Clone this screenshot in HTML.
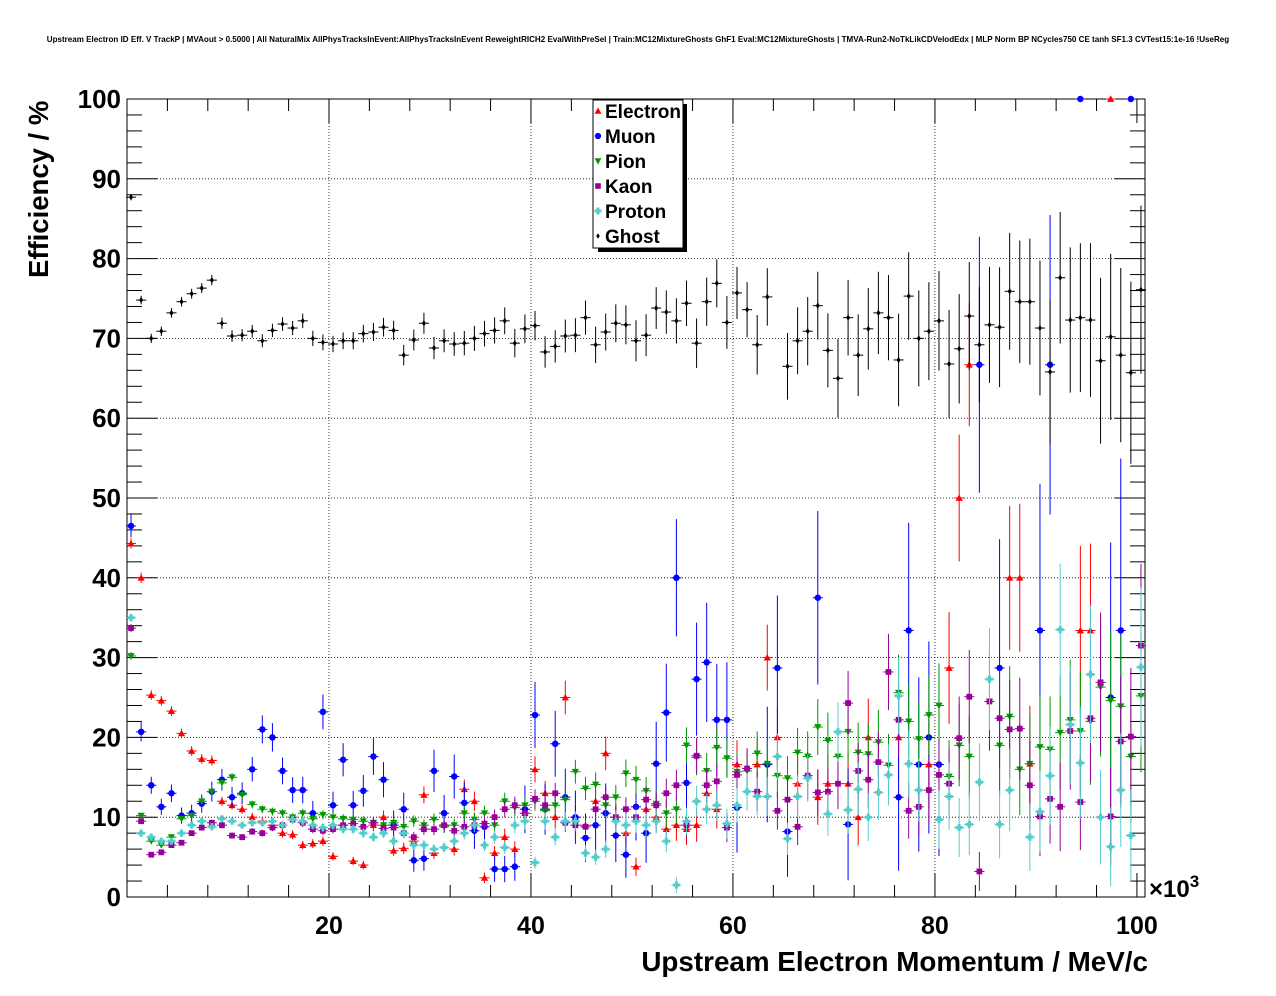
<!DOCTYPE html>
<html><head><meta charset="utf-8">
<style>
body{margin:0;background:#fff;}
svg{display:block;font-family:"Liberation Sans",Arial,sans-serif;}
</style></head>
<body>
<svg id="chart" width="1276" height="996" viewBox="0 0 1276 996" xmlns="http://www.w3.org/2000/svg">
<rect x="0" y="0" width="1276" height="996" fill="#fff"/>
<text x="638" y="42" font-size="8.05" font-weight="bold" text-anchor="middle">Upstream Electron ID Eff. V TrackP | MVAout &gt; 0.5000 | All NaturalMix AllPhysTracksInEvent:AllPhysTracksInEvent ReweightRICH2 EvalWithPreSel | Train:MC12MixtureGhosts GhF1 Eval:MC12MixtureGhosts | TMVA-Run2-NoTkLikCDVelodEdx | MLP Norm BP NCycles750 CE tanh SF1.3 CVTest15:1e-16 !UseReg</text>
<g id="grid"></g>
<g id="axes"></g>
<g id="series"></g>
<text x="1149" y="897" font-size="24" font-weight="bold">×10<tspan font-size="17" dy="-10">3</tspan></text>
<text x="1148" y="971" font-size="27.8" font-weight="bold" text-anchor="end">Upstream Electron Momentum / MeV/c</text>
<text transform="translate(48,278) rotate(-90)" font-size="27.5" font-weight="bold">Efficiency / %</text>
<g id="legend"></g>
</svg>
<script>
const xTicks=[20,40,60,80,100];
const yTicks=[0,10,20,30,40,50,60,70,80,90,100];
const seriesNames=["Electron","Muon","Pion","Kaon","Proton","Ghost"];
const ghost=[87.7,74.8,70,70.9,73.2,74.6,75.6,76.3,77.3,71.9,70.3,70.4,70.9,69.7,71,71.8,71.3,72.2,70,69.5,69.3,69.7,69.7,70.6,70.8,71.4,71,67.9,69.8,71.9,68.8,69.7,69.3,69.4,70,70.6,71,72.2,69.4,71.2,71.6,68.3,69,70.3,70.4,72.6,69.2,70.8,71.9,71.7,69.7,70.4,73.8,73.3,72.2,74.4,69.4,74.6,76.9,72,75.7,73.6,69.2,75.2,null,66.5,69.7,70.9,74.1,68.5,65,72.6,67.9,71.2,73.2,72.6,67.3,75.3,70,70.9,72.2,66.8,68.7,72.8,69.2,71.7,71.4,75.9,74.6,74.6,71.3,65.8,77.6,72.3,72.6,72.3,67.2,70.2,67.9,65.7,76.1];
const electron=[44.3,40,25.3,24.6,23.3,20.5,18.3,17.3,17.1,12,11.5,11,10,9.5,9,8,7.8,6.5,6.7,7,5.1,9,4.5,4,9,10,5.8,6.1,7,12.8,5.5,9,6,13.5,12,2.4,5.5,7.5,6,10.5,16,13,10,25,10,9,12,18,10,8,3.8,11,10,8.5,9,8.5,9,13,11,
null,16.6,null,16.6,30,20,null,14.2,null,12.5,14.2,null,14.2,10,20,null,null,20,null,null,16.6,null,28.7,50,66.7,null,null,null,40,40,16.7,null,null,null,null,33.4,33.4,null,100,null,null,null];
const muon=[46.5,20.7,14,11.3,13,10.2,10.5,11.7,13.2,14.7,12.5,13,16,21,20,15.8,13.4,13.4,10.5,23.2,11.5,17.2,11.5,13.3,17.6,14.7,9,11,4.6,4.8,15.8,10.5,15.1,11.8,8.3,8.8,3.5,3.5,3.8,11,22.8,11,19.2,12.5,10,7.4,9,10.5,7.7,5.3,11.3,8,16.7,23.1,40,14.3,27.3,29.4,22.2,
22.2,11.2,null,null,16.6,28.7,8.2,null,null,37.5,null,null,9.1,null,null,null,null,12.5,33.4,16.6,20,16.6,null,null,null,66.7,null,28.7,null,null,null,33.4,66.7,null,null,100,null,null,25,33.4,100,null];
const pion=[30.2,10.2,7,6.5,7.5,9.8,10.2,12,13.2,14.3,15,12.8,11.6,11,10.7,10.5,10,10.5,9.8,10.3,10,9.8,9.7,9.5,9.3,9,9.3,8.8,9.5,9,9.7,8.8,9,10.5,9.7,10.5,9,12,11.2,11.5,12,10.8,11.5,12.2,15.7,13.6,14.1,11.5,12.5,15.5,14.7,13.3,11.7,10.5,11,19,17.5,15.8,18.7,
17.4,15.7,15.8,18,16.7,15.2,14.9,18.1,17.6,21.3,19.6,17.6,20.7,18.1,17.9,19.4,16.5,25.6,22,19.8,22.8,24,15.1,19,17.6,null,24.5,19,22.6,16,16.7,18.8,18.5,20.6,22.2,20.8,22,26.3,24.6,23.9,17.6,25.2];
const kaon=[33.7,9.5,5.3,5.6,6.5,6.8,8,8.7,9.3,9,7.7,7.5,8.2,8,8.7,9,9.7,9.3,8.5,8.3,8.5,9,9.2,8.8,9.3,8.6,8.7,8,7.5,8.5,8.5,9,8.3,8.8,9,9.2,10,11,11.5,10.5,12.3,11.5,13,9.3,9,8.8,11,12.5,10,11,10,12.2,11.5,13,14,9,17.7,14,14.5,
8.7,15.3,16.1,13.2,null,10.8,12.2,8.8,15.2,13.1,13.2,14.2,24.3,15.8,14.7,16.9,28.2,22.2,10.8,11.3,13.4,15.3,14.2,19.9,25.1,3.2,24.5,22.4,21,21.1,14,10.1,12.3,11.3,20.8,11.9,22.4,26.9,10.1,19.5,20.1,31.5];
const proton=[35,8,7.5,7,7,8,9,9.5,8.8,9.8,9.5,9,9.3,9.3,9.5,9,9.7,9.5,9,8.7,9,8.5,8.5,8,7.5,8,7,8,6.5,6.5,6,6.2,7,8,9,6.5,7.5,6.2,9,9.5,4.3,9.5,7.5,9.5,9.5,5.5,5,6,9.5,9,9.5,9,9.5,7,1.5,9.5,12,11,11.5,
9.2,11.5,13.2,12.6,12.6,17.6,7.3,12.6,14.9,null,10.4,20.7,10.9,13.5,10,13.1,15.3,25.2,16.7,13.4,null,9.7,12.6,8.7,9.1,14.4,27.3,9.1,13.4,null,7.5,10.7,15.2,33.5,21.6,16.8,27.9,10,6.3,13.4,7.7,28.8];
const allSeries=[electron,muon,pion,kaon,proton,ghost];
const colors=["#ff0000","#0000ff","#009900","#990099","#55cccc","#000000"];
const markers=["tri","circle","tridown","square","cross","diamond"];
const nEff=[6000,1200,9000,9000,9000,7000];

const L=127,R=1145,T=99,B=897;
const X0=0,X1=100.8;
const BW=1, OFF=0.4;
function sx(v){return L+(v-X0)/(X1-X0)*(R-L);}
function sy(v){return B-v/100*(B-T);}
const NS="http://www.w3.org/2000/svg";
function mk(tag,attrs,parent){const e=document.createElementNS(NS,tag);for(const k in attrs)e.setAttribute(k,attrs[k]);parent.appendChild(e);return e;}

const grid=document.getElementById('grid');
const axes=document.getElementById('axes');
const ser=document.getElementById('series');
const leg=document.getElementById('legend');

for(const t of yTicks){ if(t>0&&t<100){const l=mk('line',{x1:L,x2:R,y1:sy(t),y2:sy(t),stroke:'#000','stroke-width':0.8,'stroke-dasharray':'1,2'},grid);

}}
for(const t of xTicks){ if(t<100){const l=mk('line',{x1:sx(t),x2:sx(t),y1:T,y2:B,stroke:'#000','stroke-width':0.8,'stroke-dasharray':'1,2'},grid);

}}

const frame=mk('rect',{x:L,y:T,width:R-L,height:B-T,fill:'none',stroke:'#000','stroke-width':1},axes);


for(let v=0;v<=100;v+=2){const major=v%10===0;const len=major?30:15;
 mk('line',{x1:L,x2:L+len,y1:sy(v),y2:sy(v),stroke:'#000','stroke-width':1},axes);
 mk('line',{x1:R,x2:R-len,y1:sy(v),y2:sy(v),stroke:'#000','stroke-width':1},axes);}
for(let v=0;v<=X1;v+=4){const major=v%20===0;const len=major?24:12;
 mk('line',{x1:sx(v),x2:sx(v),y1:B,y2:B-len,stroke:'#000','stroke-width':1},axes);
 mk('line',{x1:sx(v),x2:sx(v),y1:T,y2:T+len,stroke:'#000','stroke-width':1},axes);}
for(const t of yTicks){const tx=mk('text',{x:L-6,y:sy(t)+9,'font-size':26,'font-weight':'bold','text-anchor':'end'},axes);tx.textContent=t;

}
for(const t of xTicks){const tx=mk('text',{x:sx(t),y:934,'font-size':25,'font-weight':'bold','text-anchor':'middle'},axes);tx.textContent=t;

}

function marker(type,x,y,c,parent,s){
 s=s||4;let e;
 if(type==='tri')e=mk('polygon',{points:`${x},${y-s} ${x-s},${y+s*0.8} ${x+s},${y+s*0.8}`,fill:c},parent);
 else if(type==='tridown')e=mk('polygon',{points:`${x},${y+s} ${x-s},${y-s*0.8} ${x+s},${y-s*0.8}`,fill:c},parent);
 else if(type==='circle')e=mk('circle',{cx:x,cy:y,r:s*0.9,fill:c},parent);
 else if(type==='square')e=mk('rect',{x:x-s*0.8,y:y-s*0.8,width:s*1.6,height:s*1.6,fill:c},parent);
 else if(type==='cross')e=mk('polygon',{points:`${x-1.5},${y-s} ${x+1.5},${y-s} ${x+1.5},${y-1.5} ${x+s},${y-1.5} ${x+s},${y+1.5} ${x+1.5},${y+1.5} ${x+1.5},${y+s} ${x-1.5},${y+s} ${x-1.5},${y+1.5} ${x-s},${y+1.5} ${x-s},${y-1.5} ${x-1.5},${y-1.5}`,fill:c},parent);
 else e=mk('polygon',{points:`${x},${y-s*0.8} ${x+s*0.5},${y} ${x},${y+s*0.8} ${x-s*0.5},${y}`,fill:c},parent);
 return e;
}

allSeries.forEach((arr,si)=>{
 const g=mk('g',{},ser);
 
 
 arr.forEach((v,i)=>{
  if(v===null)return;
  const xc=OFF+i*BW;const x=sx(xc),y=sy(v);
  const n=nEff[si]*Math.pow(0.94,i)+2;
  let err=100*Math.sqrt(Math.max(v*(100-v),300)/1e4/n);
  if(v>=99.9)err=0;
  const lo=Math.max(0,v-err),hi=Math.min(100,v+err);
  mk('line',{x1:x,x2:x,y1:sy(lo),y2:sy(hi),stroke:colors[si],'stroke-width':1},g);
  mk('line',{x1:sx(xc-BW/2),x2:sx(xc+BW/2),y1:y,y2:y,stroke:colors[si],'stroke-width':1},g);
  const m=marker(markers[si],x,y,colors[si],g,si===5?4:3.6);
  
  
 });
});

// legend
mk('rect',{x:598,y:104,width:89,height:148,fill:'#000'},leg);
const lb=mk('rect',{x:593,y:100,width:90,height:148,fill:'#fff',stroke:'#000','stroke-width':1},leg);


seriesNames.forEach((nm,i)=>{
 const y=111+i*25;
 const m=marker(markers[i],598,y,colors[i],leg,3.5);
 
 
 const t=mk('text',{x:605,y:y+7,'font-size':19,'font-weight':'bold'},leg);t.textContent=nm;
 
 
});
</script>
</body></html>
